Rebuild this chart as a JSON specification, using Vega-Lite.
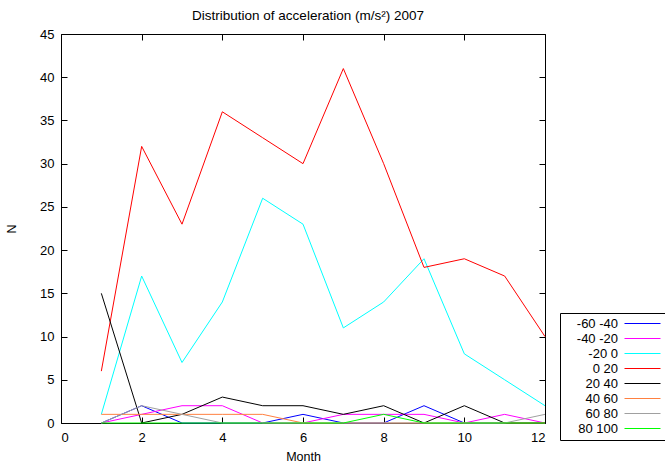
{
  "$schema": "https://vega.github.io/schema/vega-lite/v6.json",
  "width": 484,
  "height": 389,
  "autosize": {"type": "none"},
  "padding": {"left": 61, "top": 34, "right": 120, "bottom": 40},
  "background": "white",
  "title": {"text": "Distribution of acceleration (m/s²) 2007", "font": "Liberation Sans", "fontSize": 13.5, "fontWeight": "normal", "color": "black", "offset": 6, "anchor": "middle", "dx": 5},
  "config": {
    "view": {"stroke": "black", "strokeWidth": 1},
    "axis": {"labelFont": "Liberation Sans", "labelFontSize": 13, "labelColor": "black", "titleFont": "Liberation Sans", "titleFontSize": 12.5, "titleFontWeight": "normal", "titleColor": "black", "tickColor": "black", "tickSize": -6, "domain": false, "grid": false},
    "legend": {"labelFont": "Liberation Sans", "labelFontSize": 13, "labelColor": "black"}
  },
  "data": {"values": [
    {"m":1,"s":"-60 -40","n":0},{"m":2,"s":"-60 -40","n":2},{"m":3,"s":"-60 -40","n":0},{"m":4,"s":"-60 -40","n":0},{"m":5,"s":"-60 -40","n":0},{"m":6,"s":"-60 -40","n":1},{"m":7,"s":"-60 -40","n":0},{"m":8,"s":"-60 -40","n":0},{"m":9,"s":"-60 -40","n":2},{"m":10,"s":"-60 -40","n":0},{"m":11,"s":"-60 -40","n":0},{"m":12,"s":"-60 -40","n":0},
    {"m":1,"s":"-40 -20","n":0},{"m":2,"s":"-40 -20","n":1},{"m":3,"s":"-40 -20","n":2},{"m":4,"s":"-40 -20","n":2},{"m":5,"s":"-40 -20","n":0},{"m":6,"s":"-40 -20","n":0},{"m":7,"s":"-40 -20","n":1},{"m":8,"s":"-40 -20","n":1},{"m":9,"s":"-40 -20","n":1},{"m":10,"s":"-40 -20","n":0},{"m":11,"s":"-40 -20","n":1},{"m":12,"s":"-40 -20","n":0},
    {"m":1,"s":"-20 0","n":1},{"m":2,"s":"-20 0","n":17},{"m":3,"s":"-20 0","n":7},{"m":4,"s":"-20 0","n":14},{"m":5,"s":"-20 0","n":26},{"m":6,"s":"-20 0","n":23},{"m":7,"s":"-20 0","n":11},{"m":8,"s":"-20 0","n":14},{"m":9,"s":"-20 0","n":19},{"m":10,"s":"-20 0","n":8},{"m":11,"s":"-20 0","n":5},{"m":12,"s":"-20 0","n":2},
    {"m":1,"s":"0 20","n":6},{"m":2,"s":"0 20","n":32},{"m":3,"s":"0 20","n":23},{"m":4,"s":"0 20","n":36},{"m":5,"s":"0 20","n":33},{"m":6,"s":"0 20","n":30},{"m":7,"s":"0 20","n":41},{"m":8,"s":"0 20","n":30},{"m":9,"s":"0 20","n":18},{"m":10,"s":"0 20","n":19},{"m":11,"s":"0 20","n":17},{"m":12,"s":"0 20","n":10},
    {"m":1,"s":"20 40","n":15},{"m":2,"s":"20 40","n":0},{"m":3,"s":"20 40","n":1},{"m":4,"s":"20 40","n":3},{"m":5,"s":"20 40","n":2},{"m":6,"s":"20 40","n":2},{"m":7,"s":"20 40","n":1},{"m":8,"s":"20 40","n":2},{"m":9,"s":"20 40","n":0},{"m":10,"s":"20 40","n":2},{"m":11,"s":"20 40","n":0},{"m":12,"s":"20 40","n":0},
    {"m":1,"s":"40 60","n":1},{"m":2,"s":"40 60","n":1},{"m":3,"s":"40 60","n":1},{"m":4,"s":"40 60","n":1},{"m":5,"s":"40 60","n":1},{"m":6,"s":"40 60","n":0},{"m":7,"s":"40 60","n":0},{"m":8,"s":"40 60","n":0},{"m":9,"s":"40 60","n":0},{"m":10,"s":"40 60","n":0},{"m":11,"s":"40 60","n":0},{"m":12,"s":"40 60","n":0},
    {"m":1,"s":"60 80","n":0},{"m":2,"s":"60 80","n":2},{"m":3,"s":"60 80","n":1},{"m":4,"s":"60 80","n":0},{"m":5,"s":"60 80","n":0},{"m":6,"s":"60 80","n":0},{"m":7,"s":"60 80","n":0},{"m":8,"s":"60 80","n":0},{"m":9,"s":"60 80","n":0},{"m":10,"s":"60 80","n":0},{"m":11,"s":"60 80","n":0},{"m":12,"s":"60 80","n":1},
    {"m":1,"s":"80 100","n":0},{"m":2,"s":"80 100","n":0},{"m":3,"s":"80 100","n":0},{"m":4,"s":"80 100","n":0},{"m":5,"s":"80 100","n":0},{"m":6,"s":"80 100","n":0},{"m":7,"s":"80 100","n":0},{"m":8,"s":"80 100","n":1},{"m":9,"s":"80 100","n":0},{"m":10,"s":"80 100","n":0},{"m":11,"s":"80 100","n":0},{"m":12,"s":"80 100","n":0}
  ]},
  "layer": [
    {
      "mark": {"type": "line", "strokeWidth": 1, "clip": false},
      "encoding": {
        "x": {"field": "m", "type": "quantitative", "scale": {"domain": [0, 12], "nice": false}, "axis": {"values": [0,2,4,6,8,10,12], "title": "Month", "labelPadding": 14, "titlePadding": 6}},
        "y": {"field": "n", "type": "quantitative", "scale": {"domain": [0, 45], "nice": false}, "axis": {"values": [0,5,10,15,20,25,30,35,40,45], "title": "N", "labelPadding": 13, "titlePadding": 21}},
        "color": {"field": "s", "type": "nominal", "sort": null,
          "scale": {"domain": ["-60 -40","-40 -20","-20 0","0 20","20 40","40 60","60 80","80 100"], "range": ["#0000ff","#ff00ff","#00ffff","#ff0000","#000000","#ff8040","#a0a0a0","#00ff00"]},
          "legend": {"orient": "none", "legendX": 499, "legendY": 279, "title": null, "symbolType": "M-4,0H4", "symbolSize": 81, "symbolStrokeWidth": 1, "labelAlign": "right", "labelOffset": -31, "symbolOffset": 72, "rowPadding": 1, "padding": 4, "strokeColor": "black"}
        }
      }
    },
    {
      "mark": {"type": "line", "strokeOpacity": 0},
      "encoding": {
        "x": {"field": "m", "type": "quantitative", "axis": {"orient": "top", "values": [0,2,4,6,8,10,12], "labels": false, "title": null}},
        "y": {"field": "n", "type": "quantitative", "axis": {"orient": "right", "values": [0,5,10,15,20,25,30,35,40,45], "labels": false, "title": null}},
        "detail": {"field": "s"}
      }
    }
  ],
  "resolve": {"axis": {"x": "independent", "y": "independent"}}
}
